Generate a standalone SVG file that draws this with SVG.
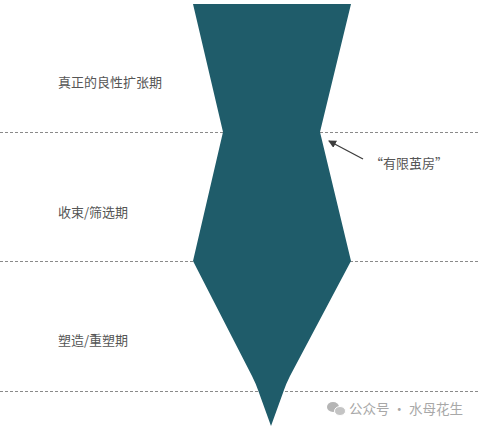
<svg xmlns="http://www.w3.org/2000/svg" width="478" height="428" viewBox="0 0 478 428">
<style>
.dash{stroke:#8a8a8a;stroke-width:1;stroke-dasharray:3 2;fill:none}
.lbl{font-family:"Noto Sans CJK SC","Noto Sans",sans-serif;font-size:13px;fill:#555}
.wm{font-family:"Noto Sans CJK SC","Noto Sans",sans-serif;font-size:13.5px;fill:#a8a8a8}
</style>
<defs>
<marker id="ah" markerWidth="8" markerHeight="8" refX="7" refY="4" orient="auto" markerUnits="userSpaceOnUse">
<path d="M0,0 L8,4 L0,8 z" fill="#3d3d3d"/>
</marker>
</defs>
<rect width="478" height="428" fill="#fff"/>
<g id="dividers">
<line class="dash" x1="0" y1="132.5" x2="478" y2="132.5"/>
<line class="dash" x1="0" y1="261.5" x2="478" y2="261.5"/>
<line class="dash" x1="0" y1="391.5" x2="478" y2="391.5"/>
</g>
<g id="shape">
<path d="M193,4 L351,4 L320,132 L351,261 L290,376 Q286,384 284,390 L271,426 L258,390 Q256,384 252,376 L193,261 L223,132 Z" fill="#1f5c6a"/>
</g>
<g id="labels">
<text class="lbl" x="58" y="87">真正的良性扩张期</text>
<text class="lbl" x="58" y="217">收束/筛选期</text>
<text class="lbl" x="58" y="345">塑造/重塑期</text>
</g>
<g id="connectors">
<line x1="363" y1="159" x2="329" y2="141" stroke="#3d3d3d" stroke-width="1.3" marker-end="url(#ah)"/>
</g>
<g id="callout">
<text class="lbl" x="370" y="168" font-size="12">“有限茧房”</text>
</g>
<g id="watermark">
<ellipse cx="333" cy="407" rx="6" ry="5" fill="#b5b5b5"/>
<ellipse cx="340" cy="411" rx="5.5" ry="4.5" fill="#c4c4c4" stroke="#fff" stroke-width="1"/>
<text class="wm" x="349" y="414">公众号 · 水母花生</text>
</g>
</svg>
